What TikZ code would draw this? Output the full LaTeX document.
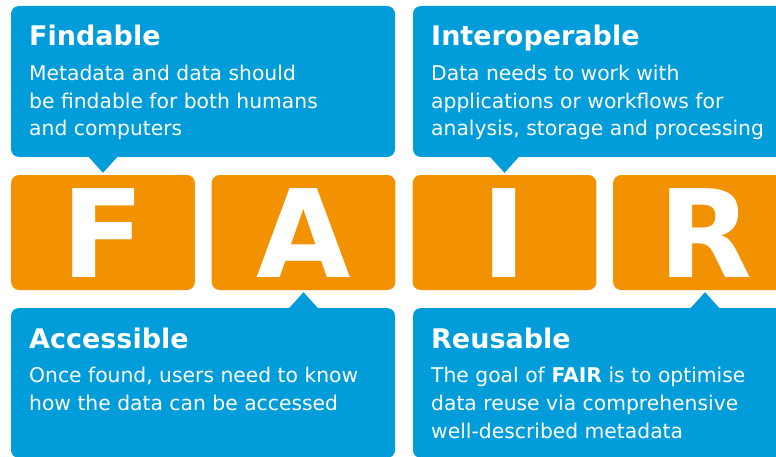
\documentclass[tikz,border=0pt]{standalone}
\usepackage{fontspec}
\setmainfont{DejaVu Sans}
\usepackage{xcolor}
\usetikzlibrary{shapes.geometric, positioning, calc}

\definecolor{fairblue}{RGB}{0,157,218}
\definecolor{fairorange}{RGB}{243,146,0}

\begin{document}
\begin{tikzpicture}[x=1pt, y=1pt,
    infobox/.style={rectangle, rounded corners=8pt, fill=fairblue, minimum width=384pt, minimum height=151pt, inner sep=0pt},
    letterbox/.style={rectangle, rounded corners=8pt, fill=fairorange, text=white, minimum width=183.7pt, text height=89pt, text depth=0pt, inner ysep=13pt, inner xsep=0pt, font=\fontsize{122}{122}\selectfont\bfseries},
    heading/.style={anchor=base west, inner sep=0pt, text=white, font=\fontsize{27}{32}\selectfont\bfseries},
    blurb/.style={anchor=base west, inner sep=0pt, text=white, align=left, font=\fontsize{20.3}{27.8}\selectfont}]
    \useasboundingbox (0,0) rectangle (776,456);
    \clip (0,0) rectangle (776,456);

    \node[infobox] (find) at (203,374.5) {};
    \node[infobox] (inter) at (605,374.5) {};
    \node[letterbox] (fbox) at (103,223.5) {F};
    \node[letterbox] (abox) at (303.5,223.5) {A};
    \node[letterbox] (ibox) at (504.5,223.5) {I};
    \node[letterbox] (rbox) at (705,223.5) {R};
    \node[infobox, minimum height=150pt] (access) at (203,73) {};
    \node[infobox, minimum height=150pt] (reuse) at (605,73) {};

    \fill[fairblue] ($(find.south -| fbox.north)+(-15,1)$) -- ($(fbox.north)+(0,2)$) -- ($(find.south -| fbox.north)+(15,1)$) -- cycle;
    \fill[fairblue] ($(inter.south -| ibox.north)+(-15,1)$) -- ($(ibox.north)+(0,2)$) -- ($(inter.south -| ibox.north)+(15,1)$) -- cycle;
    \fill[fairblue] ($(access.north -| abox.south)+(-15,-1)$) -- ($(abox.south)+(0,-2)$) -- ($(access.north -| abox.south)+(15,-1)$) -- cycle;
    \fill[fairblue] ($(reuse.north -| rbox.south)+(-15,-1)$) -- ($(rbox.south)+(0,-2)$) -- ($(reuse.north -| rbox.south)+(15,-1)$) -- cycle;

    \node[heading] (findtitle) at (29,410) {Findable};
    \node[blurb] (findtext) at (29,320) {Metadata and data should\\be findable for both humans\\and computers};
    \node[heading] (intertitle) at (431,410) {Interoperable};
    \node[blurb] (intertext) at (431,320) {Data needs to work with\\applications or workflows for\\analysis, storage and processing};
    \node[heading] (accesstitle) at (29,108) {Accessible};
    \node[blurb] (accesstext) at (29,46) {Once found, users need to know\\how the data can be accessed};
    \node[heading] (reusetitle) at (431,108) {Reusable};
    \node[blurb] (reusetext) at (431,18) {The goal of \textbf{FAIR} is to optimise\\data reuse via comprehensive\\well-described metadata};
\end{tikzpicture}
\end{document}
